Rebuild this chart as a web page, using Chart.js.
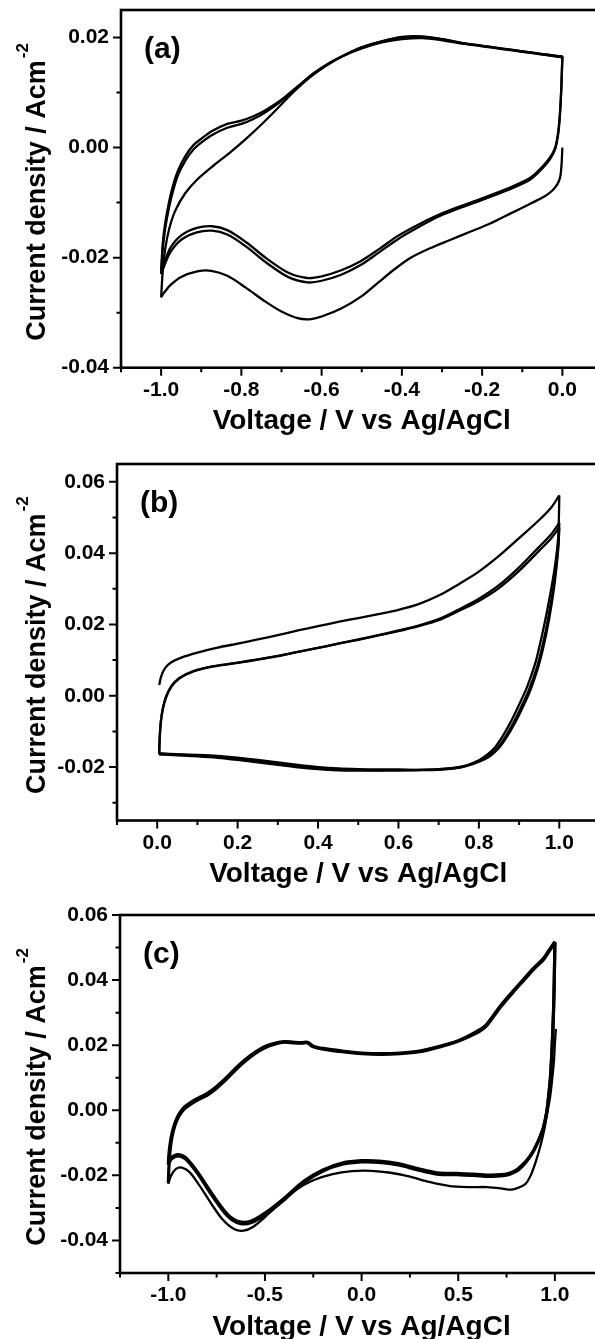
<!DOCTYPE html>
<html>
<head>
<meta charset="utf-8">
<script src="https://cdn.jsdelivr.net/npm/chart.js@4.4.1/dist/chart.umd.min.js"></script>
<style>
  html, body { margin: 0; padding: 0; background: #fff; overflow: hidden; }
  body { width: 595px; height: 1339px; position: relative; }
  canvas { position: absolute; left: 0; }
</style>
</head>
<body>
<canvas id="panelA"></canvas>
<canvas id="panelB"></canvas>
<canvas id="panelC"></canvas>
<script>
// ---- panel (a): potential window -1.0 .. 0.0 V, [V, A/cm2] pairs
const aScan1Cathodic = [[0.0, 0.0], [-0.002, -0.003], [-0.005, -0.0052], [-0.012, -0.0066], [-0.025, -0.0078],
  [-0.045, -0.0089], [-0.08, -0.0102], [-0.13, -0.012], [-0.18, -0.0138], [-0.23, -0.0153], [-0.28, -0.0168],
  [-0.33, -0.0183], [-0.38, -0.0201], [-0.42, -0.0222], [-0.46, -0.0246], [-0.5, -0.027], [-0.55, -0.0292],
  [-0.6, -0.0307], [-0.63, -0.0312], [-0.66, -0.031], [-0.7, -0.0298], [-0.74, -0.028], [-0.79, -0.0254],
  [-0.835, -0.0233], [-0.875, -0.0224], [-0.91, -0.0225], [-0.95, -0.0235], [-0.977, -0.025], [-0.993, -0.0264], [-1.0, -0.0272]]
const aScan1Anodic = [[-1.0, -0.0272], [-0.996, -0.0225], [-0.99, -0.0185], [-0.98, -0.0148], [-0.965, -0.0115],
  [-0.94, -0.0083], [-0.91, -0.0058], [-0.87, -0.0033], [-0.83, -0.001], [-0.79, 0.0015], [-0.75, 0.0042],
  [-0.71, 0.0071], [-0.67, 0.0101], [-0.63, 0.0127], [-0.59, 0.0148], [-0.55, 0.0165], [-0.5, 0.018],
  [-0.45, 0.0191], [-0.4, 0.0197], [-0.35, 0.0199], [-0.3, 0.0195], [-0.25, 0.0189], [-0.2, 0.0184],
  [-0.15, 0.0179], [-0.1, 0.0174], [-0.05, 0.0169], [-0.01, 0.0165], [0.0, 0.0164]]
const aScan2Cathodic = [[0.0, 0.0165], [-0.002, 0.012], [-0.004, 0.0085], [-0.007, 0.005], [-0.011, 0.0022],
  [-0.018, -0.0003], [-0.03, -0.002], [-0.05, -0.0038], [-0.08, -0.0058], [-0.135, -0.0077], [-0.2, -0.0095],
  [-0.267, -0.0113], [-0.314, -0.0127], [-0.362, -0.0146], [-0.409, -0.0166], [-0.456, -0.019], [-0.504, -0.0214],
  [-0.551, -0.0231], [-0.6, -0.0242], [-0.636, -0.0245], [-0.684, -0.0235], [-0.74, -0.0208], [-0.788, -0.018],
  [-0.835, -0.0158], [-0.873, -0.0151], [-0.911, -0.0154], [-0.949, -0.0167], [-0.977, -0.019], [-0.995, -0.022], [-1.0, -0.023]]
const aScan2Anodic = [[-1.0, -0.023], [-0.996, -0.0185], [-0.99, -0.0148], [-0.98, -0.0108], [-0.97, -0.0078],
  [-0.958, -0.005], [-0.94, -0.0024], [-0.92, -0.0004], [-0.9, 0.0009], [-0.873, 0.0023], [-0.835, 0.0036],
  [-0.8, 0.0043], [-0.77, 0.0052], [-0.74, 0.0064], [-0.7, 0.0085], [-0.66, 0.011], [-0.62, 0.0134],
  [-0.58, 0.0153], [-0.54, 0.0169], [-0.5, 0.0182], [-0.45, 0.0193], [-0.4, 0.02], [-0.35, 0.0201],
  [-0.3, 0.0197], [-0.25, 0.019], [-0.2, 0.0185], [-0.15, 0.018], [-0.1, 0.0175], [-0.05, 0.017], [-0.01, 0.0166], [0.0, 0.0166]]
const aScan3Cathodic = [[0.0, 0.0166], [-0.002, 0.0122], [-0.004, 0.0088], [-0.007, 0.0053], [-0.011, 0.0025],
  [-0.018, 0.0], [-0.03, -0.0017], [-0.05, -0.0035], [-0.08, -0.0055], [-0.135, -0.0074], [-0.2, -0.0092],
  [-0.267, -0.011], [-0.314, -0.0124], [-0.362, -0.0141], [-0.409, -0.016], [-0.456, -0.0184], [-0.504, -0.0207],
  [-0.551, -0.0223], [-0.6, -0.0234], [-0.636, -0.0237], [-0.684, -0.0227], [-0.74, -0.02], [-0.788, -0.0172],
  [-0.835, -0.015], [-0.873, -0.0143], [-0.911, -0.0146], [-0.949, -0.0159], [-0.977, -0.0182], [-0.995, -0.0214], [-1.0, -0.0225]]
const aScan3Anodic = [[-1.0, -0.0225], [-0.996, -0.0175], [-0.99, -0.0138], [-0.98, -0.0098], [-0.97, -0.0068],
  [-0.958, -0.0042], [-0.94, -0.0016], [-0.92, 0.0004], [-0.9, 0.0016], [-0.873, 0.003], [-0.835, 0.0043],
  [-0.8, 0.0049], [-0.77, 0.0057], [-0.74, 0.0068], [-0.7, 0.0087], [-0.66, 0.0111], [-0.62, 0.0135],
  [-0.58, 0.0154], [-0.54, 0.0169], [-0.5, 0.0182], [-0.45, 0.0193], [-0.4, 0.0201], [-0.35, 0.0202],
  [-0.3, 0.0197], [-0.25, 0.019], [-0.2, 0.0185], [-0.15, 0.018], [-0.1, 0.0175], [-0.05, 0.017], [-0.01, 0.0166], [0.0, 0.0166]]

// ---- panel (b): 0.0 .. 1.0 V
const bScan1Anodic = [[0.005, 0.003], [0.01, 0.0055], [0.02, 0.0078], [0.035, 0.0094], [0.06, 0.0107], [0.1, 0.0121],
  [0.15, 0.0135], [0.2, 0.0146], [0.25, 0.0158], [0.3, 0.017], [0.35, 0.0183], [0.4, 0.0195], [0.45, 0.0207],
  [0.5, 0.0218], [0.55, 0.0229], [0.6, 0.0241], [0.65, 0.0257], [0.7, 0.0281], [0.75, 0.0313], [0.8, 0.0348],
  [0.85, 0.0392], [0.9, 0.0442], [0.95, 0.0493], [0.98, 0.0528], [1.0, 0.0562]]
const bScan1Cathodic = [[1.0, 0.0562], [0.999, 0.05], [0.997, 0.044], [0.99, 0.037], [0.98, 0.03], [0.97, 0.024],
  [0.96, 0.0185], [0.95, 0.0135], [0.94, 0.009], [0.92, 0.0025], [0.9, -0.0025], [0.88, -0.0072], [0.86, -0.0112],
  [0.84, -0.0145], [0.82, -0.0166], [0.8, -0.0181], [0.77, -0.0195], [0.74, -0.0202], [0.7, -0.0206], [0.65, -0.0208],
  [0.6, -0.0209], [0.55, -0.021], [0.5, -0.021], [0.45, -0.0209], [0.4, -0.0206], [0.35, -0.0201], [0.3, -0.0194],
  [0.25, -0.0187], [0.2, -0.018], [0.15, -0.0174], [0.1, -0.017], [0.05, -0.0167], [0.01, -0.0165], [0.005, -0.0165]]
const bScan2Anodic = [[0.005, -0.0165], [0.006, -0.0125], [0.009, -0.0075], [0.014, -0.0038], [0.022, -0.0005],
  [0.035, 0.0025], [0.055, 0.0048], [0.09, 0.0068], [0.14, 0.0082], [0.2, 0.0092], [0.25, 0.0101], [0.3, 0.0111],
  [0.35, 0.0123], [0.4, 0.0134], [0.45, 0.0146], [0.5, 0.0158], [0.55, 0.017], [0.6, 0.0183], [0.65, 0.0197],
  [0.7, 0.0215], [0.75, 0.0242], [0.8, 0.0272], [0.85, 0.031], [0.9, 0.036], [0.95, 0.0418], [0.98, 0.0453], [1.0, 0.0485]]
const bScan2Cathodic = [[1.0, 0.0485], [0.998, 0.043], [0.993, 0.037], [0.985, 0.03], [0.975, 0.0235], [0.965, 0.0175],
  [0.955, 0.0125], [0.945, 0.0082], [0.925, 0.0018], [0.905, -0.0032], [0.885, -0.0078], [0.865, -0.0117],
  [0.845, -0.0148], [0.825, -0.0168], [0.8, -0.0183], [0.77, -0.0196], [0.74, -0.0203], [0.7, -0.0207], [0.65, -0.0208],
  [0.6, -0.0207], [0.55, -0.0207], [0.5, -0.0206], [0.45, -0.0204], [0.4, -0.02], [0.35, -0.0194], [0.3, -0.0187],
  [0.25, -0.018], [0.2, -0.0174], [0.15, -0.0169], [0.1, -0.0166], [0.05, -0.0164], [0.01, -0.0162], [0.005, -0.0162]]
const bScan3Anodic = [[0.005, -0.0162], [0.006, -0.0122], [0.009, -0.0072], [0.014, -0.0035], [0.022, -0.0002],
  [0.035, 0.0027], [0.055, 0.005], [0.09, 0.0069], [0.14, 0.0083], [0.2, 0.0093], [0.25, 0.0102], [0.3, 0.0112],
  [0.35, 0.0123], [0.4, 0.0134], [0.45, 0.0146], [0.5, 0.0157], [0.55, 0.0169], [0.6, 0.0181], [0.65, 0.0195],
  [0.7, 0.0212], [0.75, 0.0238], [0.8, 0.0266], [0.85, 0.0302], [0.9, 0.035], [0.95, 0.0407], [0.98, 0.0442], [1.0, 0.0472]]
const bScan3Cathodic = [[1.0, 0.0472], [0.998, 0.042], [0.993, 0.036], [0.986, 0.0295], [0.977, 0.023], [0.967, 0.017],
  [0.957, 0.012], [0.947, 0.0078], [0.928, 0.0015], [0.908, -0.0035], [0.888, -0.008], [0.868, -0.0118],
  [0.848, -0.0149], [0.828, -0.0169], [0.805, -0.0183], [0.77, -0.0197], [0.74, -0.0204], [0.7, -0.0208],
  [0.65, -0.0209], [0.6, -0.0209], [0.55, -0.0209], [0.5, -0.0208], [0.45, -0.0206], [0.4, -0.0202], [0.35, -0.0196],
  [0.3, -0.0189], [0.25, -0.0182], [0.2, -0.0176], [0.15, -0.0171], [0.1, -0.0167], [0.05, -0.0165], [0.01, -0.0163], [0.005, -0.0163]]

// ---- panel (c): -1.0 .. 1.0 V
const cScan1Cathodic = [[1.005, 0.025], [1.0, 0.0205], [0.995, 0.015], [0.985, 0.009], [0.975, 0.004], [0.96, -0.001],
  [0.945, -0.006], [0.925, -0.011], [0.9, -0.016], [0.875, -0.02], [0.85, -0.0225], [0.82, -0.0236], [0.79, -0.0242],
  [0.76, -0.0244], [0.72, -0.024], [0.65, -0.0236], [0.55, -0.0236], [0.45, -0.0232], [0.35, -0.022], [0.25, -0.0204],
  [0.15, -0.0192], [0.05, -0.0186], [-0.05, -0.0187], [-0.15, -0.0196], [-0.25, -0.0215], [-0.35, -0.0248],
  [-0.42, -0.0285], [-0.5, -0.0328], [-0.56, -0.0358], [-0.61, -0.037], [-0.66, -0.0365], [-0.72, -0.0335],
  [-0.78, -0.0285], [-0.84, -0.023], [-0.89, -0.019], [-0.93, -0.0176], [-0.96, -0.018], [-0.985, -0.02], [-1.0, -0.0225]]
const cScan1Anodic = [[-1.0, -0.0225], [-0.997, -0.0175], [-0.99, -0.012], [-0.98, -0.008], [-0.965, -0.0045],
  [-0.945, -0.0018], [-0.92, 0.0002], [-0.88, 0.002], [-0.84, 0.0034], [-0.8, 0.0046], [-0.75, 0.0068], [-0.7, 0.0095],
  [-0.65, 0.0125], [-0.6, 0.0152], [-0.55, 0.0175], [-0.5, 0.0192], [-0.45, 0.0203], [-0.4, 0.0209], [-0.35, 0.0207],
  [-0.31, 0.0206], [-0.28, 0.0207], [-0.25, 0.0195], [-0.2, 0.0188], [-0.1, 0.018], [0.0, 0.0174], [0.1, 0.0172],
  [0.2, 0.0174], [0.3, 0.018], [0.4, 0.0194], [0.5, 0.0212], [0.58, 0.0233], [0.64, 0.0256], [0.68, 0.0286],
  [0.72, 0.0318], [0.78, 0.036], [0.84, 0.04], [0.89, 0.0433], [0.94, 0.0462], [0.97, 0.0488], [1.0, 0.0515]]
const cScan2Cathodic = [[1.0, 0.0515], [0.997, 0.04], [0.993, 0.03], [0.985, 0.019], [0.976, 0.0094], [0.965, 0.003],
  [0.957, -0.0008], [0.94, -0.0055], [0.918, -0.009], [0.89, -0.0125], [0.86, -0.0152], [0.83, -0.0173], [0.8, -0.0188],
  [0.76, -0.0198], [0.72, -0.0202], [0.66, -0.0203], [0.58, -0.02], [0.49, -0.0198], [0.39, -0.0196], [0.29, -0.0183],
  [0.19, -0.0168], [0.09, -0.016], [0.0, -0.0159], [-0.1, -0.0166], [-0.2, -0.0187], [-0.3, -0.0223], [-0.4, -0.0275],
  [-0.5, -0.0321], [-0.57, -0.0345], [-0.63, -0.0348], [-0.69, -0.0327], [-0.77, -0.0265], [-0.85, -0.0193],
  [-0.91, -0.015], [-0.95, -0.014], [-0.985, -0.015], [-1.0, -0.0168]]
const cScan2Anodic = [[-1.0, -0.0168], [-0.997, -0.0135], [-0.99, -0.01], [-0.98, -0.0068], [-0.965, -0.0038],
  [-0.945, -0.0012], [-0.92, 0.0008], [-0.88, 0.0026], [-0.84, 0.0039], [-0.8, 0.0051], [-0.75, 0.0073], [-0.7, 0.01],
  [-0.65, 0.013], [-0.6, 0.0157], [-0.55, 0.0179], [-0.5, 0.0196], [-0.45, 0.0206], [-0.4, 0.0211], [-0.35, 0.0209],
  [-0.31, 0.0208], [-0.28, 0.0209], [-0.25, 0.0197], [-0.2, 0.019], [-0.1, 0.0182], [0.0, 0.0176], [0.1, 0.0174],
  [0.2, 0.0176], [0.3, 0.0182], [0.4, 0.0196], [0.5, 0.0214], [0.58, 0.0237], [0.64, 0.026], [0.68, 0.029],
  [0.72, 0.0322], [0.78, 0.0364], [0.84, 0.0404], [0.89, 0.0437], [0.94, 0.0466], [0.97, 0.0492], [1.0, 0.0518]]
const cScan3Cathodic = [[1.0, 0.0518], [0.997, 0.041], [0.993, 0.031], [0.986, 0.0195], [0.977, 0.0098], [0.966, 0.0033],
  [0.958, -0.0005], [0.941, -0.0052], [0.919, -0.0087], [0.891, -0.0122], [0.861, -0.0149], [0.83, -0.0169],
  [0.8, -0.0184], [0.76, -0.0194], [0.72, -0.0198], [0.66, -0.0199], [0.58, -0.0196], [0.49, -0.0194], [0.39, -0.0192],
  [0.29, -0.0179], [0.19, -0.0164], [0.09, -0.0156], [0.0, -0.0155], [-0.1, -0.0162], [-0.2, -0.0183], [-0.3, -0.0218],
  [-0.4, -0.027], [-0.5, -0.0316], [-0.57, -0.034], [-0.63, -0.0343], [-0.69, -0.0322], [-0.77, -0.026],
  [-0.85, -0.0189], [-0.91, -0.0146], [-0.95, -0.0136], [-0.985, -0.0146], [-1.0, -0.0163]]

// ---- tick marks
const aXMajor = [-1.0, -0.8, -0.6, -0.4, -0.2, 0.0]
const aXMinor = [-1.1, -0.9, -0.7, -0.5, -0.3, -0.1, 0.1]
const aYMajor = [-0.04, -0.02, 0.0, 0.02]
const aYMinor = [-0.03, -0.01, 0.01]
const bXMajor = [0.0, 0.2, 0.4, 0.6, 0.8, 1.0]
const bXMinor = [-0.1, 0.1, 0.3, 0.5, 0.7, 0.9, 1.1]
const bYMajor = [-0.02, 0.0, 0.02, 0.04, 0.06]
const bYMinor = [-0.03, -0.01, 0.01, 0.03, 0.05]
const cXMajor = [-1.0, -0.5, 0.0, 0.5, 1.0]
const cXMinor = [-1.25, -0.75, -0.25, 0.25, 0.75, 1.25]
const cYMajor = [-0.04, -0.02, 0.0, 0.02, 0.04, 0.06]
const cYMinor = [-0.05, -0.03, -0.01, 0.01, 0.03, 0.05]

const xTitle = "Voltage / V vs Ag/AgCl"
const yTitle = "Current density / Acm"
const yTitleSup = "-2"

const FONT = '"Liberation Sans", Arial, Helvetica, sans-serif'
const CANVAS_W = 620
const PAD_TOP = 40
const X_AXIS_H = 80

function framePlugin(p) {
  return {
    id: "frame",
    afterDraw(chart) {
      const { ctx, chartArea: a } = chart
      const x = chart.scales.x, y = chart.scales.y
      ctx.save()
      ctx.strokeStyle = "#000"
      ctx.fillStyle = "#000"
      ctx.lineWidth = 2.6
      ctx.strokeRect(a.left, a.top, a.right - a.left, a.bottom - a.top)

      ctx.lineWidth = 2
      ctx.beginPath()
      const tickX = (vals, len) => vals.forEach(v => {
        const px = x.getPixelForValue(v)
        ctx.moveTo(px, a.bottom); ctx.lineTo(px, a.bottom + len)
      })
      const tickY = (vals, len) => vals.forEach(v => {
        const py = y.getPixelForValue(v)
        ctx.moveTo(a.left, py); ctx.lineTo(a.left - len, py)
      })
      tickX(p.xMajor, 8); tickX(p.xMinor, 4.5)
      tickY(p.yMajor, 8); tickY(p.yMinor, 4.5)
      ctx.stroke()

      ctx.font = `bold 28px ${FONT}`
      ctx.textAlign = "center"
      ctx.textBaseline = "middle"
      ctx.fillText(xTitle, (a.left + a.right) / 2, a.bottom + 54)

      // rotated y title with superscript
      ctx.save()
      ctx.translate(45, (a.top + a.bottom) / 2 + 3)
      ctx.rotate(-Math.PI / 2)
      ctx.textAlign = "left"
      ctx.textBaseline = "alphabetic"
      ctx.font = `bold 27px ${FONT}`
      const wMain = ctx.measureText(yTitle).width
      ctx.font = `bold 17px ${FONT}`
      const wSup = ctx.measureText(yTitleSup).width
      const start = -(wMain + 2 + wSup) / 2
      ctx.font = `bold 27px ${FONT}`
      ctx.fillText(yTitle, start, 0)
      ctx.font = `bold 17px ${FONT}`
      ctx.fillText(yTitleSup, start + wMain + 2, -17)
      ctx.restore()

      ctx.font = `bold 30px ${FONT}`
      ctx.textAlign = "left"
      ctx.textBaseline = "middle"
      ctx.fillText(p.label, a.left + 23, a.top + 40)
      ctx.restore()
    }
  }
}

function drawPanel(id, p) {
  const canvas = document.getElementById(id)
  const plotH = p.bottom - p.top
  const h = Math.ceil(PAD_TOP + plotH + X_AXIS_H)
  canvas.width = CANVAS_W
  canvas.height = h
  canvas.style.width = CANVAS_W + "px"
  canvas.style.height = h + "px"
  canvas.style.top = (p.top - PAD_TOP) + "px"

  const thick = p.thick || []
  const datasets = p.scans.map((scan, i) => ({
    data: scan.map(([v, j]) => ({ x: v, y: j })),
    borderColor: "#000",
    borderWidth: thick.includes(i) ? 3.2 : 2.3,
    pointRadius: 0,
    tension: 0.3,
    fill: false
  }))

  new Chart(canvas, {
    type: "line",
    data: { datasets },
    options: {
      responsive: false,
      animation: false,
      devicePixelRatio: 1,
      layout: { autoPadding: false, padding: { top: PAD_TOP, left: 0, bottom: 0, right: CANVAS_W - p.right } },
      plugins: { legend: { display: false }, tooltip: { enabled: false } },
      scales: {
        x: {
          type: "linear",
          min: p.xMin, max: p.xMax,
          grid: { display: false, drawTicks: false },
          border: { display: false },
          afterBuildTicks: s => { s.ticks = p.xMajor.map(v => ({ value: v })) },
          afterFit: s => { s.height = h - PAD_TOP - plotH },
          ticks: {
            color: "#000",
            padding: 10,
            maxRotation: 0,
            autoSkip: false,
            font: { size: 21, weight: "bold", family: FONT },
            callback: v => Number(v).toFixed(1)
          }
        },
        y: {
          type: "linear",
          min: p.yMin, max: p.yMax,
          grid: { display: false, drawTicks: false },
          border: { display: false },
          afterBuildTicks: s => { s.ticks = p.yMajor.map(v => ({ value: v })) },
          afterFit: s => { s.width = p.left },
          ticks: {
            color: "#000",
            padding: 12,
            autoSkip: false,
            font: { size: 21, weight: "bold", family: FONT },
            callback: v => Number(v).toFixed(2)
          }
        }
      }
    },
    plugins: [framePlugin(p)]
  })
}

drawPanel("panelA", {
  label: "(a)", left: 121, right: 602.5, top: 10, bottom: 367.7,
  xMin: -1.1, xMax: 0.1, yMin: -0.04, yMax: 0.025,
  xMajor: aXMajor, xMinor: aXMinor, yMajor: aYMajor, yMinor: aYMinor,
  scans: [aScan1Cathodic, aScan1Anodic, aScan2Cathodic, aScan2Anodic, aScan3Cathodic, aScan3Anodic]
})
drawPanel("panelB", {
  label: "(b)", left: 117, right: 599.5, top: 464, bottom: 820.5,
  xMin: -0.1, xMax: 1.1, yMin: -0.035, yMax: 0.065,
  xMajor: bXMajor, xMinor: bXMinor, yMajor: bYMajor, yMinor: bYMinor,
  scans: [bScan1Anodic, bScan1Cathodic, bScan2Anodic, bScan2Cathodic, bScan3Anodic, bScan3Cathodic]
})
drawPanel("panelC", {
  label: "(c)", left: 120, right: 603.2, top: 915, bottom: 1273,
  xMin: -1.25, xMax: 1.25, yMin: -0.05, yMax: 0.06,
  xMajor: cXMajor, xMinor: cXMinor, yMajor: cYMajor, yMinor: cYMinor,
  thick: [1, 2, 3, 4],
  scans: [cScan1Cathodic, cScan1Anodic, cScan2Cathodic, cScan2Anodic, cScan3Cathodic]
})
</script>
</body>
</html>
